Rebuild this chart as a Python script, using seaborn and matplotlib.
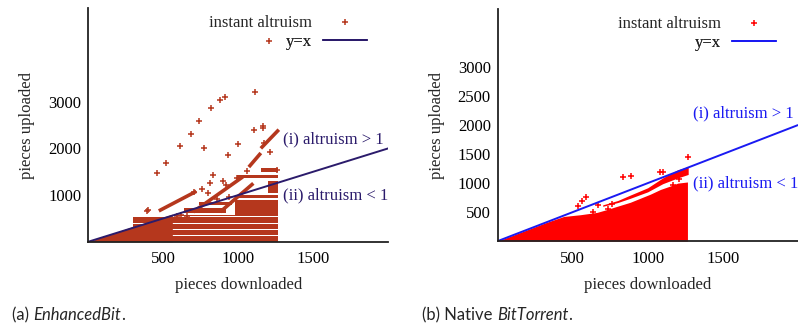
import matplotlib
matplotlib.use('Agg')
import matplotlib.pyplot as plt
import seaborn as sns

# ---- (a) EnhancedBit -------------------------------------------------------
# isolated points (pieces downloaded, pieces uploaded)
eb_sparse_x = [516, 613, 683, 738, 769, 818, 878, 909, 933, 996, 1111, 1103, 1163,
               1169, 458, 389, 1203, 831, 811, 756, 705, 896, 918, 989, 798, 1220,
               1060, 1260, 1211, 1167, 398, 590, 620, 660, 860, 940]
eb_sparse_y = [1685, 2056, 2306, 2585, 2006, 2870, 3041, 3105, 1857, 2092, 3212, 2398,
               2441, 2120, 1471, 664, 4304, 1428, 1250, 1128, 1071, 1300, 1214, 1357,
               1036, 822, 1520, 1535, 1927, 2478, 679, 560, 570, 545, 920, 960]

# dense horizontal streaks of points: x range and y range
eb_band_x0 = [100, 230, 300, 300, 560, 640, 740, 980, 1000, 1200, 990, 1150]
eb_band_x1 = [1265, 1265, 1265, 1265, 1000, 920, 960, 1265, 1265, 1265, 1265, 1265]
eb_band_lo = [0, 135, 275, 400, 545, 610, 790, 545, 930, 1050, 1360, 1500]
eb_band_hi = [115, 255, 380, 520, 580, 720, 850, 900, 1000, 1300, 1430, 1580]

# mass hugging y=x near the origin
eb_wedge_x = [0, 300, 560]
eb_wedge_top = [0, 330, 590]

# diagonal streaks of points
eb_streak_x0 = [470, 700, 1070, 1150, 880]
eb_streak_y0 = [660, 640, 1600, 2000, 640]
eb_streak_x1 = [720, 1030, 1150, 1270, 1100]
eb_streak_y1 = [1080, 1390, 1900, 2400, 1250]

# ---- (b) Native BitTorrent -------------------------------------------------
bt_env_x = [0, 217, 328, 440, 551, 662, 729, 796, 884, 951, 1018, 1084, 1150, 1200, 1265]
bt_env_top = [0, 215, 325, 425, 455, 495, 545, 600, 670, 740, 810, 890, 950, 1000, 1020]

bt_upper_x = [700, 800, 880, 1000, 1100, 1200, 1270]
bt_upper_lo = [600, 665, 735, 850, 990, 1090, 1150]
bt_upper_hi = [625, 700, 790, 920, 1090, 1230, 1285]

bt_sparse_x = [1267, 833, 891, 1084, 1100, 589, 562, 535, 635, 669, 762, 1167, 1207, 736]
bt_sparse_y = [1455, 1101, 1130, 1194, 1194, 760, 684, 609, 510, 615, 644, 974, 1073, 557]

diag_x = [0, 2000]
diag_y = [0, 2000]

x_ticks = [500, 1000, 1500]

serif = 'Liberation Serif'
fs = 12


def draw_panel(ax, line_color, ymax, yticks):
    ax.set_xlim(0, 2000)
    ax.set_ylim(0, ymax)
    ax.set_xticks(x_ticks)
    ax.set_yticks(yticks)
    for side in ['top', 'right']:
        ax.spines[side].set_visible(False)
    for side in ['left', 'bottom']:
        ax.spines[side].set_linewidth(1.3)
        ax.spines[side].set_color('#222222')
    ax.tick_params(axis='both', direction='in', length=4, width=1, labelsize=fs,
                   colors='#222222', labelcolor='black')
    ax.tick_params(axis='x', pad=7)
    ax.tick_params(axis='y', pad=5)
    for lab in ax.get_xticklabels() + ax.get_yticklabels():
        lab.set_fontfamily(serif)
    ax.set_xlabel('pieces downloaded', fontsize=fs, family=serif, va='top')
    ax.set_ylabel('pieces uploaded', fontsize=fs, family=serif)
    ax.annotate('(i) altruism > 1', xy=(1300, 2200), color=line_color, fontsize=fs,
                family=serif, va='center', annotation_clip=False)
    ax.annotate('(ii) altruism < 1', xy=(1300, 1000), color=line_color, fontsize=fs,
                family=serif, va='center', annotation_clip=False)


def right_aligned_legend(ax, x_right, y_top, row_step):
    # gnuplot-style key: text right-aligned, sample to the right of it
    handles, labels = ax.get_legend_handles_labels()
    kw = dict(loc='upper right', frameon=False, markerfirst=False,
              prop={'family': serif, 'size': fs}, handlelength=2.65,
              handletextpad=0.66, borderpad=0, borderaxespad=0, scatterpoints=1)
    for i, (h, lab) in enumerate(zip(handles, labels)):
        leg = ax.legend([h], [lab], bbox_to_anchor=(x_right, y_top - i * row_step), **kw)
        ax.add_artist(leg)


sns.set_style('white')
fig = plt.figure(figsize=(7.98, 3.29), dpi=100)
ax1 = fig.add_axes([0.1107, 0.2653, 0.3759, 0.7094])
ax2 = fig.add_axes([0.6237, 0.2672, 0.3759, 0.7046])

# --- left panel
eb_color = '#b5371d'
eb_line = '#2b1b6b'
ax1.fill_between(eb_wedge_x, 0, eb_wedge_top, color=eb_color, lw=0)
for x0, x1, lo, hi in zip(eb_band_x0, eb_band_x1, eb_band_lo, eb_band_hi):
    ax1.fill_between([x0, x1], lo, hi, color=eb_color, lw=0)
for x0, y0, x1, y1 in zip(eb_streak_x0, eb_streak_y0, eb_streak_x1, eb_streak_y1):
    ax1.plot([x0, x1], [y0, y1], color=eb_color, lw=2.6, solid_capstyle='butt')
sns.scatterplot(x=eb_sparse_x, y=eb_sparse_y, marker='+', s=22, color=eb_color,
                linewidth=1.1, ax=ax1, label='instant altruism')
sns.lineplot(x=diag_x, y=diag_y, color=eb_line, lw=1.4, ax=ax1, label='y=x')
draw_panel(ax1, eb_line, 5000, [1000, 2000, 3000])
ax1.yaxis.set_label_coords(-0.178, 0.5)
ax1.xaxis.set_label_coords(0.5, -0.15)
ax1.get_legend().remove()
right_aligned_legend(ax1, 0.929, 0.973, 0.082)

# --- right panel
bt_color = '#ff0000'
bt_line = '#1a1af2'
ax2.fill_between(bt_env_x, 0, bt_env_top, color=bt_color, lw=0)
ax2.fill_between(bt_upper_x, bt_upper_lo, bt_upper_hi, color=bt_color, lw=0)
sns.scatterplot(x=bt_sparse_x, y=bt_sparse_y, marker='+', s=22, color=bt_color,
                linewidth=1.1, ax=ax2, label='instant altruism')
sns.lineplot(x=diag_x, y=diag_y, color=bt_line, lw=1.4, ax=ax2, label='y=x')
draw_panel(ax2, bt_line, 4000, [500, 1000, 1500, 2000, 2500, 3000])
ax2.yaxis.set_label_coords(-0.176, 0.5)
ax2.xaxis.set_label_coords(0.5, -0.155)
ax2.get_legend().remove()
right_aligned_legend(ax2, 0.928, 0.973, 0.082)

# captions
cap_font = 'Lato'
cfs = 12
c1 = fig.text(12 / 798, 1 - 320 / 329, '(a) ', fontsize=cfs, family=cap_font, va='baseline')
c1b = ax1.annotate('EnhancedBit', xy=(1, 0), xycoords=c1, fontsize=cfs, family=cap_font,
                   style='italic', va='bottom', annotation_clip=False)
ax1.annotate('.', xy=(1, 0), xycoords=c1b, fontsize=cfs, family=cap_font,
             va='bottom', annotation_clip=False)
c2 = fig.text(422 / 798, 1 - 320 / 329, '(b) Native ', fontsize=cfs, family=cap_font,
              va='baseline')
c2b = ax2.annotate('BitTorrent', xy=(1, 0), xycoords=c2, fontsize=cfs, family=cap_font,
                   style='italic', va='bottom', annotation_clip=False)
ax2.annotate('.', xy=(1, 0), xycoords=c2b, fontsize=cfs, family=cap_font,
             va='bottom', annotation_clip=False)

fig.savefig('out.png', dpi=100)
